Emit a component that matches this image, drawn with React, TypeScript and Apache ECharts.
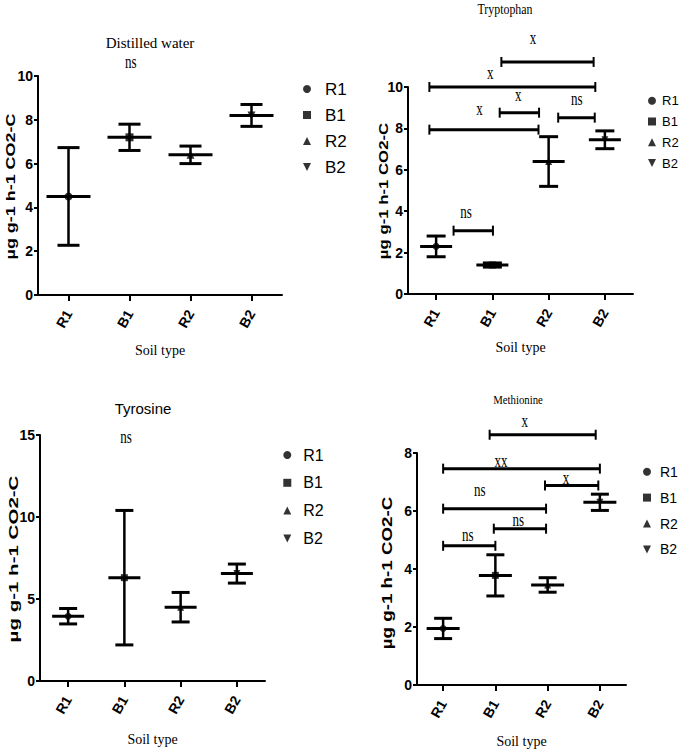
import React, { useEffect, useRef } from "react";
import * as echarts from "echarts";

// ---------------- data ----------------
const categories = ["R1", "B1", "R2", "B2"];
const markerSymbols = ["circle", "rect", "triangle", "path://M0,0L10,0L5,10Z"];

const panelTitles = ["Distilled water", "Tryptophan", "Tyrosine", "Methionine"];
const yAxisName = "µg g-1 h-1 CO2-C";
const xAxisName = "Soil type";

const yMaxValues = [10, 10, 15, 8];
const yIntervals = [2, 2, 5, 2];

const distilledMean = [4.5, 7.2, 6.4, 8.2];
const distilledErr = [2.23, 0.6, 0.4, 0.5];
const tryptophanMean = [2.3, 1.4, 6.4, 7.45];
const tryptophanErr = [0.5, 0.1, 1.2, 0.43];
const tyrosineMean = [3.95, 6.3, 4.5, 6.55];
const tyrosineErr = [0.47, 4.1, 0.9, 0.58];
const methionineMean = [1.95, 3.78, 3.45, 6.3];
const methionineErr = [0.35, 0.71, 0.25, 0.28];

// significance annotations: label at (x, y); optional bracket from..to at level
type Note = { text: string; x: number; y: number; from?: number; to?: number; level?: number };
const distilledNotes: Note[] = [{ text: "ns", x: 1.02, y: 10.64 }];
const tryptophanNotes: Note[] = [
  { text: "x", x: 1.72, y: 12.34, from: 1.16, to: 2.8, level: 11.21 },
  { text: "x", x: 0.96, y: 10.65, from: -0.12, to: 2.83, level: 10.0 },
  { text: "x", x: 1.46, y: 9.6, from: 1.13, to: 1.83, level: 8.76 },
  { text: "ns", x: 2.5, y: 9.4, from: 2.17, to: 2.82, level: 8.52 },
  { text: "x", x: 0.77, y: 8.91, from: -0.12, to: 1.82, level: 7.94 },
  { text: "ns", x: 0.53, y: 3.94, from: 0.31, to: 1.01, level: 3.06 },
];
const tyrosineNotes: Note[] = [{ text: "ns", x: 1.03, y: 14.88 }];
const methionineNotes: Note[] = [
  { text: "x", x: 1.56, y: 9.09, from: 0.89, to: 2.92, level: 8.63 },
  { text: "xx", x: 1.11, y: 7.71, from: 0, to: 3.0, level: 7.46 },
  { text: "x", x: 2.35, y: 7.14, from: 1.95, to: 2.97, level: 6.88 },
  { text: "ns", x: 0.7, y: 6.73, from: 0, to: 1.97, level: 6.08 },
  { text: "ns", x: 1.44, y: 5.7, from: 0.97, to: 1.97, level: 5.39 },
  { text: "ns", x: 0.47, y: 5.18, from: 0, to: 1.0, level: 4.8 },
];

const panelMeans = [distilledMean, tryptophanMean, tyrosineMean, methionineMean];
const panelErrs = [distilledErr, tryptophanErr, tyrosineErr, methionineErr];
const panelNotes = [distilledNotes, tryptophanNotes, tyrosineNotes, methionineNotes];

// ---------------- layout / style ----------------
const NARROW = '"Liberation Sans Narrow", "Liberation Sans", Arial, sans-serif';
const SANS = '"Liberation Sans", Arial, sans-serif';
const SERIF = '"Liberation Serif", "Times New Roman", serif';

const layouts = [
  {
    grid: { left: 38, top: 76, width: 244, height: 219 },
    title: { x: 150, y: 43, font: `15px ${SERIF}`, scaleX: 1 },
    yName: { x: 10, y: 186.5, size: 13, stretch: 1.38 },
    nameGap: 48,
    legend: { left: 303, top: 80, fontSize: 17, lineHeight: 18, gap: 8, pad: 9 },
    meanW: 44, capW: 22, marker: 8,
  },
  {
    grid: { left: 408, top: 87, width: 225, height: 207 },
    title: { x: 505, y: 9, font: `14px ${SERIF}`, scaleX: 0.85 },
    yName: { x: 383, y: 191, size: 13, stretch: 1.29 },
    nameGap: 46,
    legend: { left: 648, top: 93.7, fontSize: 13, lineHeight: 14, gap: 6.8, pad: 1 },
    meanW: 32, capW: 19, marker: 7,
  },
  {
    grid: { left: 40, top: 435, width: 225, height: 246 },
    title: { x: 143, y: 408, font: `15px ${NARROW}`, scaleX: 1 },
    yName: { x: 13, y: 559, size: 13, stretch: 1.58 },
    nameGap: 51,
    legend: { left: 283.3, top: 446.5, fontSize: 16, lineHeight: 17, gap: 10.8, pad: 7 },
    meanW: 32, capW: 18, marker: 7,
  },
  {
    grid: { left: 417, top: 453, width: 209, height: 232 },
    title: { x: 518, y: 400, font: `13px ${SERIF}`, scaleX: 0.83 },
    yName: { x: 387, y: 573, size: 14, stretch: 1.34 },
    nameGap: 49,
    legend: { left: 643, top: 464.2, fontSize: 14, lineHeight: 15, gap: 10.9, pad: 4 },
    meanW: 33, capW: 18, marker: 7,
  },
];

function errorBarRender(meanW: number, capW: number) {
  return (_params: any, api: any) => {
    const i = api.value(0);
    const m = api.value(1);
    const e = api.value(2);
    const c = api.coord([i, m]);
    const hi = api.coord([i, m + e]);
    const lo = api.coord([i, m - e]);
    const x = c[0];
    const thick = { stroke: "#000", lineWidth: 3 };
    return {
      type: "group",
      children: [
        { type: "line", shape: { x1: x, y1: hi[1], x2: x, y2: lo[1] }, style: { stroke: "#000", lineWidth: 2.5 } },
        { type: "line", shape: { x1: x - capW / 2, y1: hi[1], x2: x + capW / 2, y2: hi[1] }, style: thick },
        { type: "line", shape: { x1: x - capW / 2, y1: lo[1], x2: x + capW / 2, y2: lo[1] }, style: thick },
        { type: "line", shape: { x1: x - meanW / 2, y1: c[1], x2: x + meanW / 2, y2: c[1] }, style: thick },
      ],
    };
  };
}

function notesRender(notes: Note[]) {
  return (params: any, api: any) => {
    const n = notes[params.dataIndex];
    const children: any[] = [];
    if (n.from !== undefined && n.to !== undefined && n.level !== undefined) {
      const p1 = api.coord([n.from, n.level]);
      const p2 = api.coord([n.to, n.level]);
      children.push({ type: "line", shape: { x1: p1[0], y1: p1[1], x2: p2[0], y2: p2[1] }, style: { stroke: "#000", lineWidth: 3 } });
      children.push({ type: "line", shape: { x1: p1[0], y1: p1[1] - 5, x2: p1[0], y2: p1[1] + 5 }, style: { stroke: "#000", lineWidth: 2 } });
      children.push({ type: "line", shape: { x1: p2[0], y1: p2[1] - 5, x2: p2[0], y2: p2[1] + 5 }, style: { stroke: "#000", lineWidth: 2 } });
    }
    const lp = api.coord([n.x, n.y]);
    children.push({
      type: "text",
      x: lp[0],
      y: lp[1],
      scaleY: 1.45,
      style: { text: n.text, font: `13px ${SERIF}`, fill: "#000", align: "center", verticalAlign: "middle" },
    });
    return { type: "group", children };
  };
}

function buildOption() {
  const grid: any[] = [];
  const xAxis: any[] = [];
  const yAxis: any[] = [];
  const series: any[] = [];
  const legend: any[] = [];
  const graphic: any[] = [];

  layouts.forEach((L, g) => {
    grid.push({ ...L.grid });
    xAxis.push({
      type: "category",
      gridIndex: g,
      data: categories,
      boundaryGap: true,
      name: xAxisName,
      nameLocation: "middle",
      nameGap: L.nameGap,
      nameTextStyle: { fontFamily: SERIF, fontSize: 14, color: "#000" },
      axisLine: { show: true, onZero: false, lineStyle: { color: "#000", width: 2 } },
      axisTick: { show: true, alignWithLabel: true, length: 6, lineStyle: { color: "#000", width: 2 } },
      axisLabel: { rotate: 60, margin: 16, fontFamily: SANS, fontWeight: "bold", fontSize: 14, color: "#000" },
      splitLine: { show: false },
    });
    xAxis.push({ type: "value", gridIndex: g, min: -0.5, max: 3.5, show: false, axisLine: { onZero: false } });
    yAxis.push({
      type: "value",
      gridIndex: g,
      min: 0,
      max: yMaxValues[g],
      interval: yIntervals[g],
      axisLine: { show: true, onZero: false, lineStyle: { color: "#000", width: 2 } },
      axisTick: { show: true, length: 4, lineStyle: { color: "#000", width: 2 } },
      axisLabel: { margin: 5, fontFamily: NARROW, fontWeight: "bold", fontSize: 14, color: "#000" },
      splitLine: { show: false },
    });

    const mean = panelMeans[g];
    const err = panelErrs[g];
    series.push({
      type: "custom",
      xAxisIndex: 2 * g,
      yAxisIndex: g,
      clip: false,
      encode: { x: 0, y: 1 },
      data: categories.map((_, i) => [i, mean[i], err[i]]),
      renderItem: errorBarRender(L.meanW, L.capW),
      silent: true,
      z: 2,
    });
    categories.forEach((c, i) => {
      series.push({
        type: "scatter",
        name: c,
        xAxisIndex: 2 * g,
        yAxisIndex: g,
        data: [[i, mean[i]]],
        symbol: markerSymbols[i],
        symbolSize: L.marker,
        itemStyle: { color: "#000" },
        silent: true,
        z: 5,
      });
    });
    const notes = panelNotes[g];
    series.push({
      type: "custom",
      xAxisIndex: 2 * g + 1,
      yAxisIndex: g,
      clip: false,
      encode: { x: 0, y: 1 },
      data: notes.map((n) => [n.x, n.y]),
      renderItem: notesRender(notes),
      silent: true,
      z: 3,
    });

    legend.push({
      orient: "vertical",
      left: L.legend.left,
      top: L.legend.top,
      padding: 0,
      itemWidth: 8,
      itemHeight: 8,
      itemGap: L.legend.gap,
      selectedMode: false,
      textStyle: {
        fontFamily: NARROW,
        fontSize: L.legend.fontSize,
        lineHeight: L.legend.lineHeight,
        color: "#000",
        padding: [0, 0, 0, L.legend.pad],
      },
      data: categories.map((c, i) => ({ name: c, icon: markerSymbols[i] })),
    });

    graphic.push({
      type: "text",
      x: L.title.x,
      y: L.title.y,
      scaleX: L.title.scaleX,
      style: { text: panelTitles[g], font: L.title.font, fill: "#000", align: "center", verticalAlign: "middle" },
    });
    graphic.push({
      type: "text",
      x: L.yName.x,
      y: L.yName.y,
      rotation: Math.PI / 2,
      scaleX: L.yName.stretch,
      style: {
        text: yAxisName,
        font: `bold ${L.yName.size}px ${SANS}`,
        fill: "#000",
        align: "center",
        verticalAlign: "middle",
      },
    });
  });

  return {
    animation: false,
    backgroundColor: "#fff",
    grid,
    xAxis,
    yAxis,
    series,
    legend,
    graphic,
  };
}

export default function App() {
  const ref = useRef<HTMLDivElement>(null);
  useEffect(() => {
    if (!ref.current) return;
    const chart = echarts.init(ref.current, null, { renderer: "svg" });
    chart.setOption(buildOption() as any);
    return () => chart.dispose();
  }, []);
  return (
    <div
      ref={ref}
      style={{ position: "fixed", left: 0, top: 0, width: 685, height: 753, background: "#fff" }}
    />
  );
}
